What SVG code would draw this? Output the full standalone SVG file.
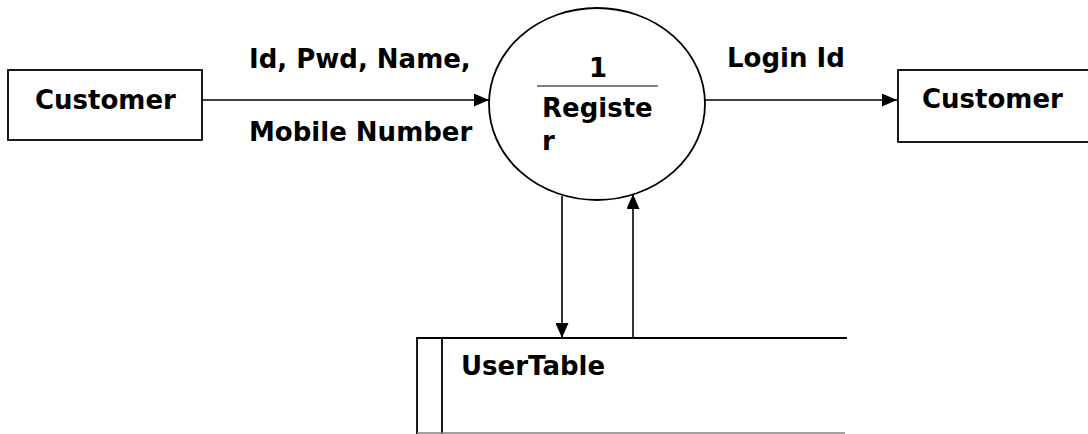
<svg xmlns="http://www.w3.org/2000/svg" width="1088" height="434" viewBox="0 0 1088 434">
<style>
.t{font-family:"DejaVu Sans",Verdana,sans-serif;font-weight:bold;font-size:26px;fill:#000}
.s{fill:none;stroke:#000;stroke-width:1.8}
.c{fill:none;stroke:#000;stroke-width:1.6}
</style>
<defs>
<marker id="ah" viewBox="0 0 15 13" refX="15" refY="6.5" markerWidth="15" markerHeight="13" markerUnits="userSpaceOnUse" orient="auto">
<path d="M0,0 L15,6.5 L0,13 Z" fill="#000"/>
</marker>
</defs>
<rect width="1088" height="434" fill="#fff"/>
<g id="connectors">
<line class="c" x1="202" y1="100" x2="489" y2="100" marker-end="url(#ah)"/>
<line class="c" x1="705" y1="100" x2="897" y2="100" marker-end="url(#ah)"/>
<line class="c" x1="562" y1="196" x2="562" y2="338" marker-end="url(#ah)"/>
<line class="c" x1="633" y1="338" x2="633" y2="194" marker-end="url(#ah)"/>
<text class="t" x="249" y="68">Id, Pwd, Name,</text>
<text class="t" x="249" y="141">Mobile Number</text>
<text class="t" x="727" y="67">Login Id</text>
</g>
<g id="customer-source">
<rect class="s" x="8" y="70" width="194" height="70"/>
<text class="t" x="35" y="109">Customer</text>
</g>
<g id="process-register">
<ellipse class="s" cx="597" cy="104" rx="108" ry="96"/>
<line x1="537" y1="86" x2="658" y2="86" stroke="#808080" stroke-width="2"/>
<text class="t" x="598" y="77" text-anchor="middle">1</text>
<text class="t" x="542" y="117">Registe</text>
<text class="t" x="542" y="150">r</text>
</g>
<g id="customer-sink">
<rect class="s" x="898" y="70" width="200" height="72"/>
<text class="t" x="922" y="108">Customer</text>
</g>
<g id="usertable">
<path class="s" d="M847,338 H417 V434 M442,338 V434"/>
<line x1="417" y1="433" x2="845" y2="433" stroke="#808080" stroke-width="1.5"/>
<text class="t" x="461" y="375">UserTable</text>
</g>
</svg>
